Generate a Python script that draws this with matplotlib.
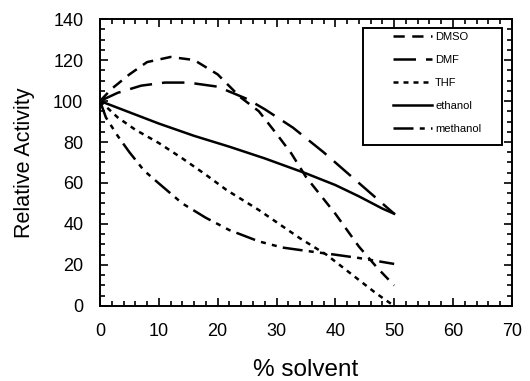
import matplotlib
matplotlib.use("Agg")
import matplotlib.pyplot as plt
from matplotlib.ticker import MultipleLocator
from matplotlib.patches import Rectangle

plt.rcParams['font.family'] = ['Liberation Sans', 'DejaVu Sans']

dmso_x = [0, 2, 5, 8, 12, 16, 20, 23.8, 27, 30, 32.5, 35, 40, 44, 47, 50]
dmso_y = [100, 106, 113, 119, 121.5, 120, 113, 102, 95, 84, 74.5, 63, 45, 29, 19, 10]

dmf_x = [0, 3, 7, 11, 15, 20, 25, 28, 32.8, 38, 44, 48, 50]
dmf_y = [100, 104, 107.5, 109, 109, 107, 101, 96, 87, 75, 60, 50, 45]

thf_x = [0, 3, 6, 10, 14, 18, 21.5, 27, 34, 38.5, 44, 47, 50]
thf_y = [100, 92, 86, 79.5, 72, 64, 56.6, 46.8, 33, 25, 12.7, 6, 0]

eth_x = [0, 5, 10, 16, 22, 28, 35, 40, 44, 48, 50]
eth_y = [100, 94.5, 89, 83, 77.7, 72, 64.7, 59, 53.5, 47.5, 45]

meth_x = [0, 1, 3, 5, 7.5, 10, 14, 18, 22, 27, 31, 36, 40, 44, 50]
meth_y = [100, 92, 83, 75, 66, 59.8, 50, 43, 37, 31.5, 28.5, 26.5, 25, 23.4, 20.5]

fig = plt.figure(figsize=(5.3, 3.81), dpi=100)
ax = fig.add_axes([0.1887, 0.197, 0.777, 0.753])

lw = 1.8
ax.plot(dmso_x, dmso_y, color='black', lw=lw, linestyle=(0, (4.5, 3)), label='DMSO')
ax.plot(dmf_x, dmf_y, color='black', lw=lw, linestyle=(0, (9, 4)), label='DMF')
ax.plot(thf_x, thf_y, color='black', lw=lw, linestyle=(0, (2, 2)), label='THF')
ax.plot(eth_x, eth_y, color='black', lw=lw, linestyle='-', label='ethanol')
ax.plot(meth_x, meth_y, color='black', lw=lw, linestyle=(0, (8, 2.5, 2, 2.5, 2, 2.5)), label='methanol')

ax.set_xlim(0, 70)
ax.set_ylim(0, 140)
ax.xaxis.set_major_locator(MultipleLocator(10))
ax.xaxis.set_minor_locator(MultipleLocator(2))
ax.yaxis.set_major_locator(MultipleLocator(20))
ax.yaxis.set_minor_locator(MultipleLocator(5))
ax.tick_params(which='both', direction='in', top=True, right=True, width=1.2, labelsize=13, pad=12)
ax.tick_params(which='major', length=6)
ax.tick_params(which='minor', length=3.5)
for s in ax.spines.values():
    s.set_linewidth(1.4)

ax.set_xlabel('% solvent', fontsize=17.5, labelpad=14)
ax.set_ylabel('Relative Activity', fontsize=15.5, labelpad=13)

# legend frame (drawn separately to match the wide left margin)
ax.add_patch(Rectangle((0.638, 0.561), 0.338, 0.408, transform=ax.transAxes,
                       facecolor='white', edgecolor='black', lw=1.4, zorder=4))
leg = ax.legend(loc='upper left', bbox_to_anchor=(0.711, 0.955), fontsize=8, frameon=False,
                handlelength=3.5, handletextpad=0.3,
                labelspacing=1.17, borderpad=0, borderaxespad=0)
leg.set_zorder(5)

fig.savefig('out.png', dpi=100)
